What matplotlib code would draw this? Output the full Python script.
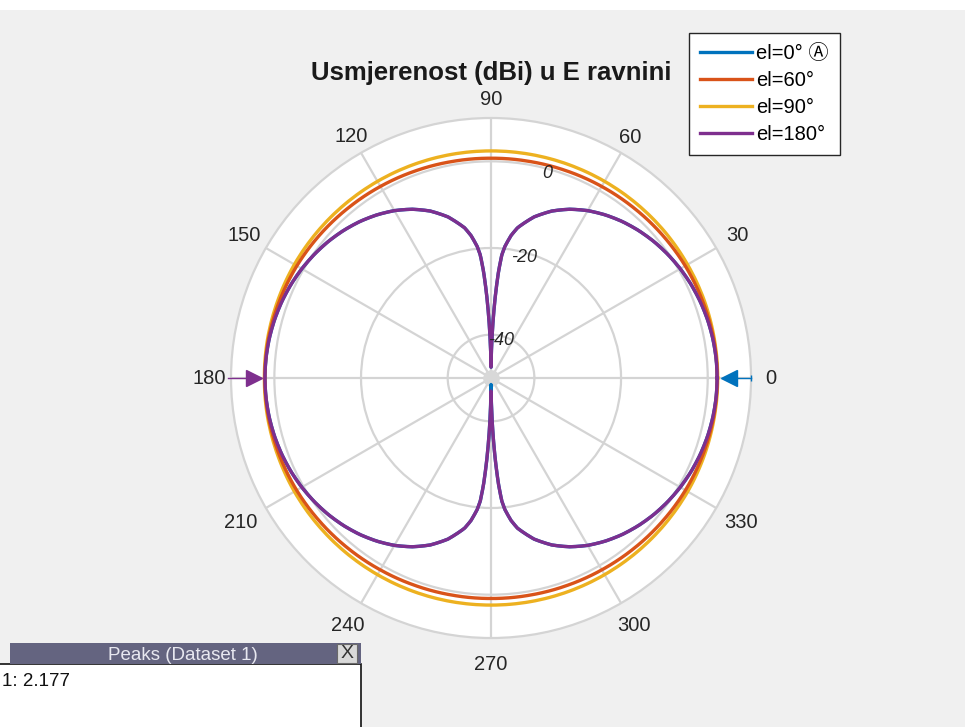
import matplotlib
matplotlib.use('Agg')
import matplotlib.pyplot as plt
from matplotlib.patches import Rectangle
import numpy as np

plt.rcParams['font.family'] = ['Liberation Sans', 'Noto Sans CJK JP', 'DejaVu Sans']

title = 'Usmjerenost (dBi) u E ravnini'
series_labels = ['el=0° Ⓐ', 'el=60°', 'el=90°', 'el=180°']
colors = ['#0072BD', '#D95319', '#EDB120', '#7E2F8E']

# angles (deg) for the dipole-like cuts (finer near the nulls)
angles_fine = [0, 5, 10, 15, 20, 25, 30, 35, 40, 45, 50, 55, 60, 65, 70, 75, 80, 82, 84, 85, 86, 87, 88, 89,
               90, 91, 92, 93, 94, 95, 96, 98, 100, 105, 110, 115, 120, 125, 130, 135, 140, 145, 150, 155,
               160, 165, 170, 175, 180, 185, 190, 195, 200, 205, 210, 215, 220, 225, 230, 235, 240, 245, 250,
               255, 260, 262, 264, 265, 266, 267, 268, 269, 270, 271, 272, 273, 274, 275, 276, 278, 280, 285,
               290, 295, 300, 305, 310, 315, 320, 325, 330, 335, 340, 345, 350, 355, 360]

el180_db = [2.18, 2.13, 1.98, 1.74, 1.40, 0.96, 0.42, -0.23, -0.98, -1.86, -2.87, -4.05, -5.40, -7.03, -9.0,
            -11.5, -14.8, -16.8, -19.5, -21.5, -25.5, -31.0, -37.0, -43.0,
            -47.5, -43.0, -37.0, -31.0, -25.5, -21.5, -19.5, -16.8, -14.8, -11.5, -9.0, -7.03, -5.40, -4.05,
            -2.87, -1.86, -0.98, -0.23, 0.42, 0.96,
            1.40, 1.74, 1.98, 2.13, 2.18, 2.13, 1.98, 1.74, 1.40, 0.96, 0.42, -0.23, -0.98, -1.86, -2.87,
            -4.05, -5.40, -7.03, -9.0,
            -11.5, -14.8, -16.8, -19.5, -21.5, -25.5, -31.0, -37.0, -43.0, -47.0, -43.0, -37.0, -31.0, -25.5,
            -21.5, -19.5, -16.8, -14.8, -11.5,
            -9.0, -7.03, -5.40, -4.05, -2.87, -1.86, -0.98, -0.23, 0.42, 0.96, 1.40, 1.74, 1.98, 2.13, 2.18]

el0_db = [2.18, 2.13, 1.98, 1.74, 1.40, 0.96, 0.42, -0.23, -0.98, -1.86, -2.87, -4.05, -5.40, -7.03, -9.0,
          -11.5, -14.8, -16.8, -19.5, -21.5, -25.5, -31.0, -37.0, -43.0,
          -47.5, -43.0, -37.0, -31.0, -25.5, -21.5, -19.5, -16.8, -14.8, -11.5, -9.0, -7.03, -5.40, -4.05,
          -2.87, -1.86, -0.98, -0.23, 0.42, 0.96,
          1.40, 1.74, 1.98, 2.13, 2.18, 2.13, 1.98, 1.74, 1.40, 0.96, 0.42, -0.23, -0.98, -1.86, -2.87,
          -4.05, -5.40, -7.03, -9.0,
          -11.5, -14.8, -16.8, -19.5, -21.5, -25.5, -31.0, -37.0, -43.5, -48.5, -43.5, -37.0, -31.0, -25.5,
          -21.5, -19.5, -16.8, -14.8, -11.5,
          -9.0, -7.03, -5.40, -4.05, -2.87, -1.86, -0.98, -0.23, 0.42, 0.96, 1.40, 1.74, 1.98, 2.13, 2.18]

angles_coarse = [0, 10, 20, 30, 40, 50, 60, 70, 80, 90, 100, 110, 120, 130, 140, 150, 160, 170, 180,
                 190, 200, 210, 220, 230, 240, 250, 260, 270, 280, 290, 300, 310, 320, 330, 340, 350, 360]
el60_db = [2.2, 2.15, 1.95, 1.75, 1.5, 1.25, 1.05, 0.88, 0.76, 0.72, 0.76, 0.88, 1.05, 1.25, 1.5, 1.75,
           1.95, 2.15, 2.2, 2.15, 1.98, 1.8, 1.55, 1.32, 1.12, 0.98, 0.9, 0.88, 0.9, 0.98, 1.12, 1.32,
           1.55, 1.8, 1.98, 2.15, 2.2]
el90_db = [2.3, 2.3, 2.35, 2.35, 2.4, 2.4, 2.4, 2.4, 2.4, 2.4, 2.4, 2.4, 2.4, 2.4, 2.4, 2.4, 2.35, 2.35,
           2.3, 2.35, 2.35, 2.4, 2.4, 2.4, 2.4, 2.4, 2.4, 2.4, 2.4, 2.4, 2.4, 2.4, 2.4, 2.4, 2.35, 2.3, 2.3]

theta_ticks = [0, 30, 60, 90, 120, 150, 180, 210, 240, 270, 300, 330]
r_ticks = [-40, -20, 0]
r_min, r_max = -50, 10
peak_text = '1: 2.177'
peaks_title = 'Peaks (Dataset 1)'

fig = plt.figure(figsize=(9.65, 7.27), dpi=100, facecolor='#f0f0f0')
fig.patches.append(Rectangle((0, 1 - 10 / 727), 1, 10 / 727, transform=fig.transFigure,
                             facecolor='white', edgecolor='none', zorder=0))

ax = fig.add_axes([0.2394, 0.1224, 0.5389, 0.7153], projection='polar')
ax.set_facecolor('white')
ax.set_rlim(r_min, r_max)
ax.set_rticks(r_ticks)
ax.set_yticklabels([])
ax.set_xticks(np.deg2rad(theta_ticks))
ax.set_xticklabels([])
ax.grid(True, color='#d4d4d4', lw=1.6)
ax.spines['polar'].set_color('#d4d4d4')
ax.spines['polar'].set_linewidth(1.6)

# angle labels (MATLAB-style placement just outside the outer ring)
px_per_db = 260.0 / (r_max - r_min)
label_dist_px = {0: 280, 30: 285, 60: 278, 90: 278, 120: 279, 150: 285,
                 180: 282, 210: 289, 240: 286, 270: 286, 300: 286, 330: 289}
for t in theta_ticks:
    ax.text(np.deg2rad(t), r_min + label_dist_px[t] / px_per_db, str(t), fontsize=14.5,
            color='#262626', ha='center', va='center', clip_on=False)

# center dot
ax.plot([0], [r_min], 'o', color='#d8d8d8', ms=11, zorder=2)

lw = 2.4
lines = []
lines += ax.plot(np.deg2rad(angles_fine), el0_db, color=colors[0], lw=lw, label=series_labels[0], zorder=3)
lines += ax.plot(np.deg2rad(angles_coarse), el60_db, color=colors[1], lw=lw, label=series_labels[1], zorder=4)
lines += ax.plot(np.deg2rad(angles_coarse), el90_db, color=colors[2], lw=lw, label=series_labels[2], zorder=3.5)
lines += ax.plot(np.deg2rad(angles_fine), el180_db, color=colors[3], lw=lw, label=series_labels[3], zorder=5)
# draw the segments as smooth polar arcs rather than straight chords
for ln in lines:
    ln.get_path()._interpolation_steps = 24

# radial tick labels
for v in r_ticks:
    ax.text(np.deg2rad(74.5), v - 1.1, str(v), style='italic', fontsize=13, color='#262626',
            ha='center', va='center', zorder=6)

# peak markers
ax.plot([0], [4.9], marker='<', color=colors[0], ms=11, clip_on=False, zorder=7)
ax.plot([0, 0], [6.7, 10.0], color=colors[0], lw=1, clip_on=False, zorder=7)
ax.plot([0], [10.0], marker='|', color=colors[0], ms=5, mew=1, clip_on=False, zorder=7)
ax.plot([np.pi], [4.7], marker='>', color=colors[3], ms=11, clip_on=False, zorder=7)
ax.plot([np.pi, np.pi], [6.5, 10.8], color=colors[3], lw=1, clip_on=False, zorder=7)

fig.text(0.509, 0.90, title, ha='center', va='center', fontsize=18.5, fontweight='bold', color='#1a1a1a')

leg = fig.legend(loc='upper left', bbox_to_anchor=(0.714, 0.9546), fontsize=14.5,
                 handlelength=2.6, handletextpad=0.2, labelspacing=0.4, borderpad=0.55,
                 fancybox=False, framealpha=1, edgecolor='#262626', facecolor='white',
                 borderaxespad=0)
leg.get_frame().set_linewidth(1.0)

# Peaks panel
px1 = 361 / 965
hx0 = 10 / 965
hy0, hy1 = 1 - 664 / 727, 1 - 643 / 727
fig.patches.append(Rectangle((-0.01, -0.01), px1 + 0.01, hy0 + 0.01, transform=fig.transFigure,
                             facecolor='white', edgecolor='#111111', lw=1.2, zorder=5))
fig.patches.append(Rectangle((hx0, hy0), px1 - hx0, hy1 - hy0, transform=fig.transFigure,
                             facecolor='#646480', edgecolor='none', zorder=6))
fig.patches.append(Rectangle((337 / 965, hy0 + 1 / 727), 20 / 965, (hy1 - hy0) - 2 / 727,
                             transform=fig.transFigure, facecolor='#d9d9d9', edgecolor='#6a6a6a',
                             lw=0.8, zorder=7))
fig.text(183 / 965, 1 - 655 / 727, peaks_title, ha='center', va='center', fontsize=13.5,
         color='#e8e8f0', zorder=8)
fig.text(347 / 965, 1 - 654 / 727, 'X', ha='center', va='center', fontsize=14,
         color='#333333', zorder=8)
fig.text(2 / 965, 1 - 681 / 727, peak_text, ha='left', va='center', fontsize=13.5,
         color='#111111', zorder=8)

fig.savefig('out.png', dpi=100, facecolor=fig.get_facecolor())
